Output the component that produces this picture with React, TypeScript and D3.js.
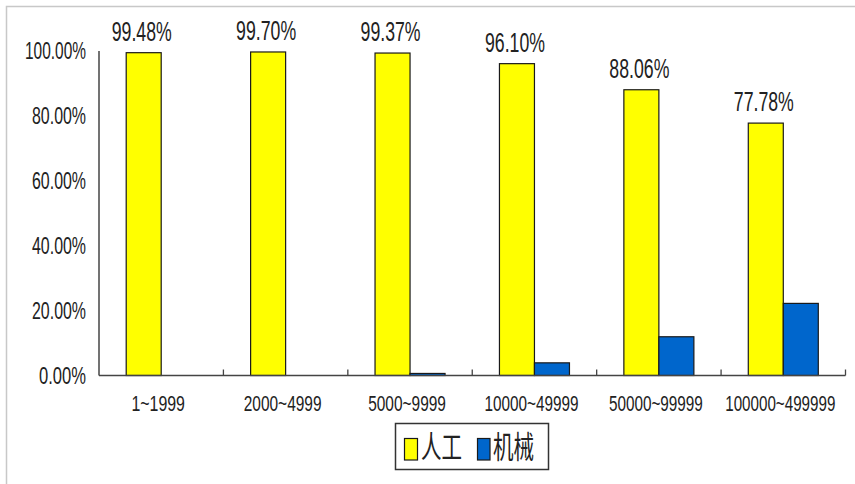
import React from "react";
import * as d3 from "d3";

const categories = ["1~1999", "2000~4999", "5000~9999", "10000~49999", "50000~99999", "100000~499999"];
const seriesNames = ["人工", "机械"];
const manualValues = [99.48, 99.7, 99.37, 96.1, 88.06, 77.78];
const machineValues = [0, 0, 0.63, 3.9, 11.94, 22.22];
const yTicks = [0, 20, 40, 60, 80, 100];
const seriesColors = ["#FFFF00", "#0066CC"];

const W = 855;
const H = 484;
const FONT = "'Liberation Sans', Arial, sans-serif";
const CJK = "'Noto Sans CJK SC', sans-serif";
const TEXT_COLOR = "#222";

function Label({ x, y, text, w, fs, sy = 1.5, anchor = "middle", family = FONT }: any) {
  const x0 = anchor === "middle" ? x - w / 2 : anchor === "end" ? x - w : x;
  return (
    <text
      transform={`translate(${x0},${y}) scale(1,${sy})`}
      x={0}
      y={0}
      fontSize={fs}
      fontFamily={family}
      fill={TEXT_COLOR}
      textLength={w}
      lengthAdjust="spacingAndGlyphs"
    >
      {text}
    </text>
  );
}

export default function App() {
  const x = d3.scaleBand<string>().domain(categories).range([99, 845.5]).padding(0);
  const xs = d3
    .scaleBand<string>()
    .domain(seriesNames)
    .range([0, x.bandwidth()])
    .paddingInner(0)
    .paddingOuter(0.777);
  const y = d3.scaleLinear().domain([0, 100]).range([375.5, 51]);
  const fmt = (v: number) => d3.format(".2f")(v) + "%";

  const series = [manualValues, machineValues];
  const boundaries = d3.range(1, categories.length + 1).map((i) => x.range()[0] + i * x.step());

  return (
    <svg
      width={W}
      height={H}
      style={{ position: "absolute", left: 0, top: 0, background: "#fff" }}
    >
      <rect x={0} y={0} width={W} height={H} fill="#fff" />
      {/* outer frame */}
      <rect x={6.5} y={6.5} width={W + 20} height={H + 20} fill="none" stroke="#c8c8c8" strokeWidth={1.5} />

      {/* bars */}
      {series.map((vals, si) =>
        vals.map((v, i) =>
          v > 0 ? (
            <rect
              key={`b${si}-${i}`}
              x={(x(categories[i]) as number) + (xs(seriesNames[si]) as number)}
              y={y(v)}
              width={xs.bandwidth()}
              height={y(0) - y(v)}
              fill={seriesColors[si]}
              stroke="#1a1a1a"
              strokeWidth={1.2}
            />
          ) : null
        )
      )}

      {/* axes */}
      <line x1={99} x2={99} y1={y(100)} y2={y(0)} stroke="#444" strokeWidth={1.5} />
      <line x1={99} x2={x.range()[1]} y1={y(0)} y2={y(0)} stroke="#444" strokeWidth={1.5} />
      {boundaries.map((bx, i) => (
        <line key={`t${i}`} x1={bx} x2={bx} y1={y(0)} y2={y(0) - 6} stroke="#444" strokeWidth={1.3} />
      ))}

      {/* y tick labels */}
      {yTicks.map((t) => {
        const s = fmt(t);
        return <Label key={`y${t}`} x={86} y={y(t) + 8} text={s} w={7 * s.length + 12} fs={15.5} anchor="end" />;
      })}

      {/* x tick labels */}
      {categories.map((c) => (
        <Label
          key={`x${c}`}
          x={(x(c) as number) + x.bandwidth() / 2 - 3}
          y={411}
          text={c}
          w={8.1 * (c.length - 1) + 13}
          fs={14.6}
        />
      ))}

      {/* data labels */}
      {manualValues.map((v, i) => (
        <Label
          key={`d${i}`}
          x={(x(categories[i]) as number) + (xs(seriesNames[0]) as number) + xs.bandwidth() / 2 - 2}
          y={y(v) - 12}
          text={fmt(v)}
          w={60}
          fs={17.7}
          sy={1.52}
        />
      ))}

      {/* legend */}
      <rect x={395.5} y={423.5} width={153} height={46} fill="#fff" stroke="#333" strokeWidth={1.5} />
      <rect x={404.5} y={438.5} width={13} height={21.5} fill={seriesColors[0]} stroke="#1a1a1a" strokeWidth={1.2} />
      <Label x={421} y={458} text={seriesNames[0]} w={41} fs={20.5} anchor="start" family={CJK} />
      <rect x={477.5} y={438.5} width={12.5} height={21.5} fill={seriesColors[1]} stroke="#1a1a1a" strokeWidth={1.2} />
      <Label x={493} y={458} text={seriesNames[1]} w={41} fs={20.5} anchor="start" family={CJK} />
    </svg>
  );
}
